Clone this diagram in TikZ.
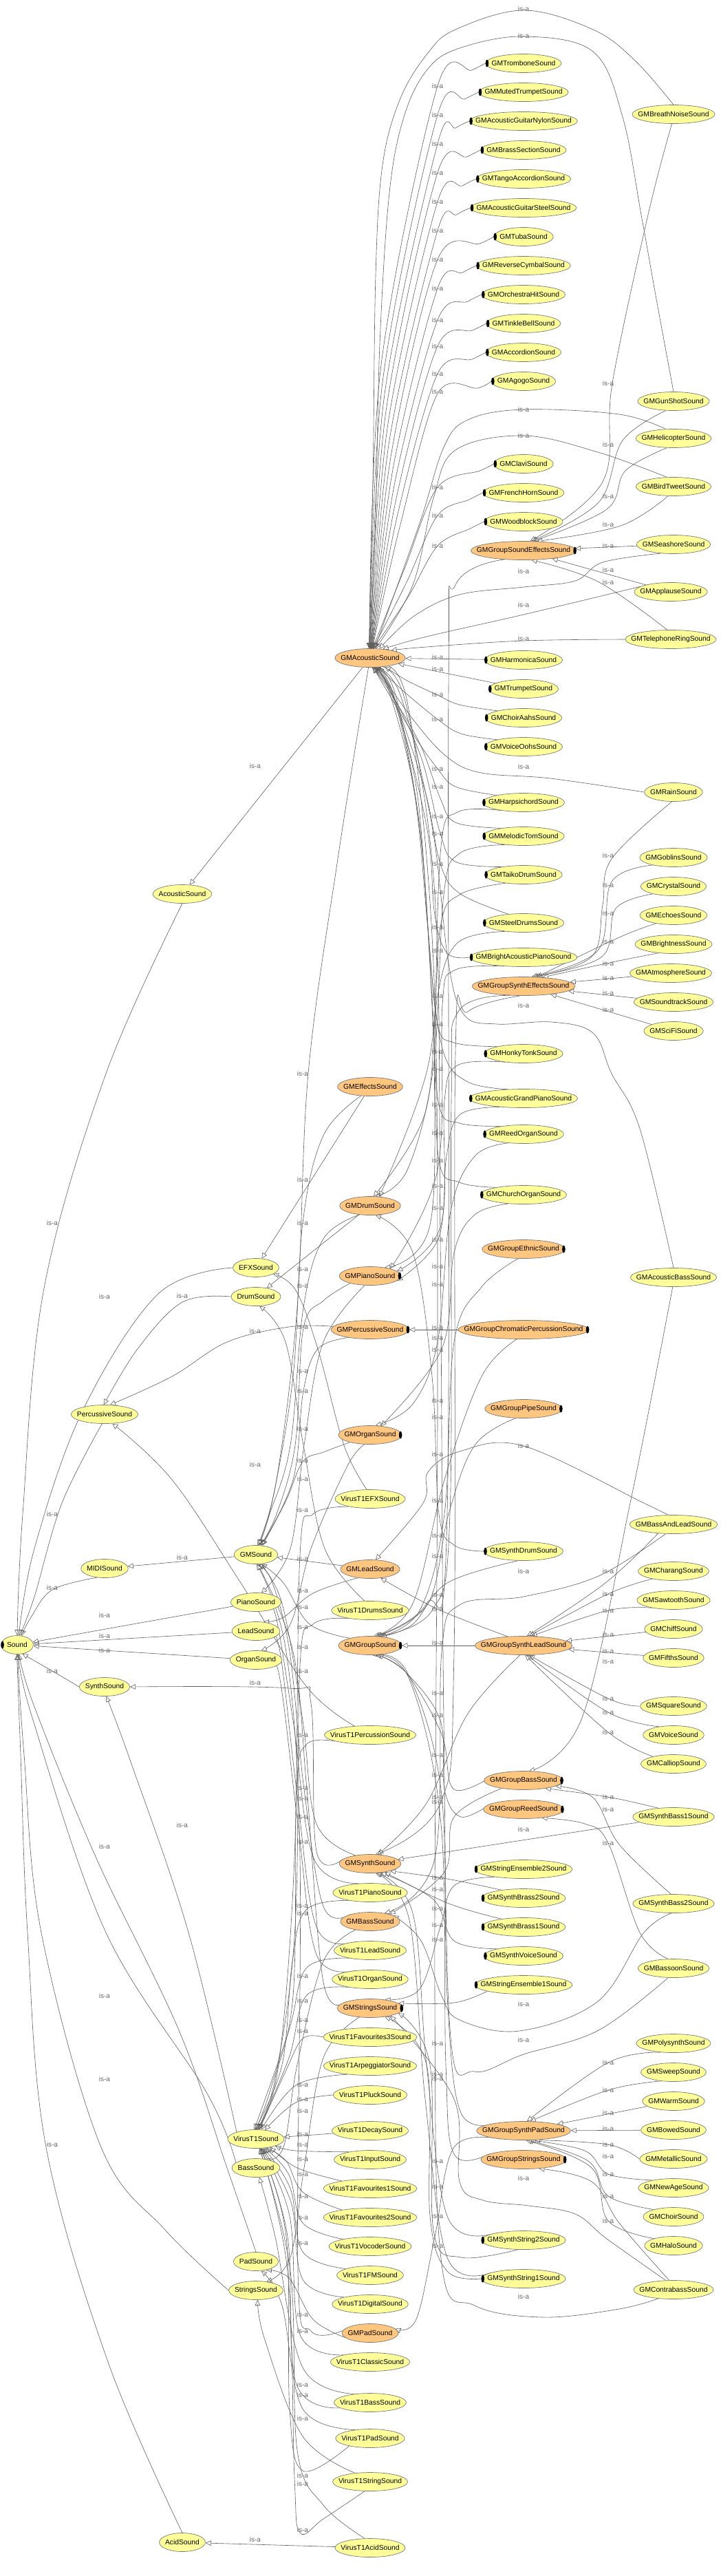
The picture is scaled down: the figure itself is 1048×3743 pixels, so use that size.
\documentclass[tikz,border=0pt]{standalone}
\usepackage{fontspec}
\setmainfont{Liberation Sans}
\usetikzlibrary{arrows.meta,shapes.geometric}
\definecolor{ny}{RGB}{255,255,153}
\definecolor{no}{RGB}{255,198,128}
\definecolor{nb}{RGB}{120,120,120}
\definecolor{ln}{RGB}{95,95,95}
\definecolor{lb}{RGB}{105,105,105}
\pgfdeclarelayer{bg}
\pgfsetlayers{bg,main}
\tikzset{
 yn/.style={ellipse, draw=nb, line width=.7pt, fill=ny, inner xsep=-60pt, inner ysep=-20pt, minimum height=27pt},
 on/.style={yn, fill=no},
 isa/.style={draw=ln, line width=.6pt, -{Triangle[open,length=8pt,width=7.5pt]}},
 lbl/.style={text=lb, inner sep=0pt, font=\fontsize{10}{12}\selectfont}
}
\newcommand\nd[4]{\pgfmathsetmacro\nw{width("#2")+17}\node[#1,minimum width=\nw pt] (#2) at (#3,#4) {#2};}
\newcommand\nY[3]{\nd{yn}{#1}{#2}{#3}}
\newcommand\nO[3]{\nd{on}{#1}{#2}{#3}}
\newcommand\mL[1]{\fill[black] ([xshift=2.3pt]#1.west) ellipse [x radius=2.3pt, y radius=5.5pt];}
\newcommand\mR[1]{\fill[black] ([xshift=-2.3pt]#1.east) ellipse [x radius=2.3pt, y radius=5.5pt];}
\newcommand\E[1]{\draw[isa] plot[smooth,tension=.6] coordinates {#1};}
\newcommand\TR[4]{\draw[isa] plot[smooth,tension=.55] coordinates {(#1.west) ([xshift=-20pt,yshift=-10pt]#1.west) (636,#3) ({548+0.06*#2},{(#2+976)/2}) (GMAcousticSound.#4)};}
\begin{document}
\begin{tikzpicture}[x=1pt,y=-1pt]
\fontsize{10.3}{12}\selectfont
\useasboundingbox (0,0) rectangle (1048,3743);
% ---------- nodes: right column
\nY{GMTromboneSound}{761}{92}\mL{GMTromboneSound}
\nY{GMMutedTrumpetSound}{761}{134}\mL{GMMutedTrumpetSound}
\nY{GMAcousticGuitarNylonSound}{761}{176}\mL{GMAcousticGuitarNylonSound}
\nY{GMBrassSectionSound}{761}{218}\mL{GMBrassSectionSound}
\nY{GMTangoAccordionSound}{761}{260}\mL{GMTangoAccordionSound}
\nY{GMAcousticGuitarSteelSound}{761}{302}\mL{GMAcousticGuitarSteelSound}
\nY{GMTubaSound}{761}{344}\mL{GMTubaSound}
\nY{GMReverseCymbalSound}{761}{386}\mL{GMReverseCymbalSound}
\nY{GMOrchestraHitSound}{761}{428}\mL{GMOrchestraHitSound}
\nY{GMTinkleBellSound}{761}{470}\mL{GMTinkleBellSound}
\nY{GMAccordionSound}{761}{512}\mL{GMAccordionSound}
\nY{GMAgogoSound}{761}{554}\mL{GMAgogoSound}
\nY{GMClaviSound}{761}{674}\mL{GMClaviSound}
\nY{GMFrenchHornSound}{761}{716}\mL{GMFrenchHornSound}
\nY{GMWoodblockSound}{761}{758}\mL{GMWoodblockSound}
\nO{GMGroupSoundEffectsSound}{761}{800}\mR{GMGroupSoundEffectsSound}
\nY{GMHarmonicaSound}{761}{959}\mL{GMHarmonicaSound}
\nY{GMTrumpetSound}{761}{1001}\mL{GMTrumpetSound}
\nY{GMChoirAahsSound}{761}{1043}\mL{GMChoirAahsSound}
\nY{GMVoiceOohsSound}{761}{1085}\mL{GMVoiceOohsSound}
\nY{GMHarpsichordSound}{761}{1166}\mL{GMHarpsichordSound}
\nY{GMMelodicTomSound}{761}{1215}\mL{GMMelodicTomSound}
\nY{GMTaikoDrumSound}{761}{1271}\mL{GMTaikoDrumSound}
\nY{GMSteelDrumsSound}{761}{1341}\mL{GMSteelDrumsSound}
\nY{GMBrightAcousticPianoSound}{761}{1391}\mL{GMBrightAcousticPianoSound}
\nO{GMGroupSynthEffectsSound}{761}{1433}
\nY{GMHonkyTonkSound}{761}{1531}\mL{GMHonkyTonkSound}
\nY{GMAcousticGrandPianoSound}{761}{1596}\mL{GMAcousticGrandPianoSound}
\nY{GMReedOrganSound}{761}{1648}\mL{GMReedOrganSound}
\nY{GMChurchOrganSound}{761}{1736}\mL{GMChurchOrganSound}
\nO{GMGroupEthnicSound}{761}{1815}\mR{GMGroupEthnicSound}
\nO{GMGroupChromaticPercussionSound}{761}{1932}\mR{GMGroupChromaticPercussionSound}
\nO{GMGroupPipeSound}{761}{2047}\mR{GMGroupPipeSound}
\nY{GMSynthDrumSound}{761}{2254}\mL{GMSynthDrumSound}
\nO{GMGroupSynthLeadSound}{761}{2391}
\nO{GMGroupBassSound}{761}{2587}\mR{GMGroupBassSound}
\nO{GMGroupReedSound}{761}{2629}\mR{GMGroupReedSound}
\nY{GMStringEnsemble2Sound}{761}{2716}\mL{GMStringEnsemble2Sound}
\nY{GMSynthBrass2Sound}{761}{2758}\mL{GMSynthBrass2Sound}
\nY{GMSynthBrass1Sound}{761}{2800}\mL{GMSynthBrass1Sound}
\nY{GMSynthVoiceSound}{761}{2842}\mL{GMSynthVoiceSound}
\nY{GMStringEnsemble1Sound}{761}{2884}\mL{GMStringEnsemble1Sound}
\nO{GMGroupSynthPadSound}{761}{3096}
\nO{GMGroupStringsSound}{761}{3138}\mR{GMGroupStringsSound}
\nY{GMSynthString2Sound}{761}{3255}\mL{GMSynthString2Sound}
\nY{GMSynthString1Sound}{761}{3311}\mL{GMSynthString1Sound}
% far right
\nY{GMBreathNoiseSound}{979}{166}
\nY{GMGunShotSound}{979}{583}
\nY{GMHelicopterSound}{979}{637}
\nY{GMBirdTweetSound}{979}{707}
\nY{GMSeashoreSound}{979}{791}
\nY{GMApplauseSound}{975}{860}
\nY{GMTelephoneRingSound}{975}{929}
\nY{GMRainSound}{979}{1151}
\nY{GMGoblinsSound}{979}{1246}
\nY{GMCrystalSound}{979}{1288}
\nY{GMEchoesSound}{979}{1330}
\nY{GMBrightnessSound}{979}{1372}
\nY{GMAtmosphereSound}{975}{1414}
\nY{GMSoundtrackSound}{979}{1456}
\nY{GMSciFiSound}{979}{1498}
\nY{GMAcousticBassSound}{979}{1856}
\nY{GMBassAndLeadSound}{979}{2215}
\nY{GMCharangSound}{979}{2283}
\nY{GMSawtoothSound}{979}{2325}
\nY{GMChiffSound}{979}{2367}
\nY{GMFifthsSound}{979}{2409}
\nY{GMSquareSound}{979}{2479}
\nY{GMVoiceSound}{979}{2521}
\nY{GMCalliopSound}{979}{2563}
\nY{GMSynthBass1Sound}{979}{2640}
\nY{GMSynthBass2Sound}{979}{2766}
\nY{GMBassoonSound}{979}{2860}
\nY{GMPolysynthSound}{979}{2969}
\nY{GMSweepSound}{979}{3011}
\nY{GMWarmSound}{979}{3053}
\nY{GMBowedSound}{979}{3095}
\nY{GMMetallicSound}{979}{3137}
\nY{GMNewAgeSound}{979}{3179}
\nY{GMChoirSound}{979}{3221}
\nY{GMHaloSound}{979}{3263}
\nY{GMContrabassSound}{979}{3327}
% middle column
\nO{GMAcousticSound}{538}{956}
\nO{GMEffectsSound}{538}{1579}
\nO{GMDrumSound}{538}{1752}
\nO{GMPianoSound}{538}{1854}\mR{GMPianoSound}
\nO{GMPercussiveSound}{538}{1932}\mR{GMPercussiveSound}
\nO{GMOrganSound}{538}{2085}\mR{GMOrganSound}
\nY{VirusT1EFXSound}{538}{2178}
\nO{GMLeadSound}{538}{2280}
\nY{VirusT1DrumsSound}{538}{2340}
\nO{GMGroupSound}{538}{2391}\mR{GMGroupSound}
\nY{VirusT1PercussionSound}{538}{2521}
\nO{GMSynthSound}{538}{2708}
\nY{VirusT1PianoSound}{538}{2750}
\nO{GMBassSound}{538}{2792}
\nY{VirusT1LeadSound}{538}{2834}
\nY{VirusT1OrganSound}{538}{2876}
\nO{GMStringsSound}{538}{2918}\mR{GMStringsSound}
\nY{VirusT1Favourites3Sound}{538}{2960}
\nY{VirusT1ArpeggiatorSound}{538}{3002}
\nY{VirusT1PluckSound}{538}{3044}
\nY{VirusT1DecaySound}{538}{3096}
\nY{VirusT1InputSound}{538}{3138}
\nY{VirusT1Favourites1Sound}{538}{3180}
\nY{VirusT1Favourites2Sound}{538}{3222}
\nY{VirusT1VocoderSound}{538}{3264}
\nY{VirusT1FMSound}{538}{3306}
\nY{VirusT1DigitalSound}{538}{3348}
\nO{GMPadSound}{538}{3390}
\nY{VirusT1ClassicSound}{538}{3432}
\nY{VirusT1BassSound}{538}{3491}
\nY{VirusT1PadSound}{538}{3543}
\nY{VirusT1StringSound}{538}{3606}
\nY{VirusT1AcidSound}{538}{3702}
% left columns
\nY{EFXSound}{372}{1842}
\nY{DrumSound}{372}{1884}
\nY{GMSound}{372}{2259}
\nY{PianoSound}{372}{2328}
\nY{LeadSound}{372}{2370}
\nY{OrganSound}{372}{2412}
\nY{VirusT1Sound}{372}{3108}
\nY{BassSound}{372}{3150}
\nY{PadSound}{372}{3286}
\nY{StringsSound}{372}{3328}
\nY{AcousticSound}{265}{1299}
\nY{AcidSound}{265}{3694}
\nY{PercussiveSound}{152}{2055}
\nY{MIDISound}{152}{2279}
\nY{SynthSound}{152}{2451}
\nY{Sound}{25}{2390}\mL{Sound}
% ---------- edges
\begin{pgfonlayer}{bg}
\fill[white] (0,0) rectangle (1048,3743);
\TR{GMTromboneSound}{92}{125}{95}
\TR{GMMutedTrumpetSound}{134}{167}{93}
\TR{GMAcousticGuitarNylonSound}{176}{209}{91}
\TR{GMBrassSectionSound}{218}{251}{89}
\TR{GMTangoAccordionSound}{260}{293}{87}
\TR{GMAcousticGuitarSteelSound}{302}{335}{85}
\TR{GMTubaSound}{344}{377}{84}
\TR{GMReverseCymbalSound}{386}{419}{82}
\TR{GMOrchestraHitSound}{428}{465}{81}
\TR{GMTinkleBellSound}{470}{503}{80}
\TR{GMAccordionSound}{512}{543}{78}
\TR{GMAgogoSound}{554}{572}{77}
\TR{GMClaviSound}{674}{708}{75}
\TR{GMFrenchHornSound}{716}{749}{73}
\TR{GMWoodblockSound}{758}{793}{71}
% arcs and sound effects
\E{(GMBreathNoiseSound.north) (922,87) (862,43) (761,15) (662,43) (622,77) (582,143) (556,240) (546,400) (542,700) (GMAcousticSound.97)}
\E{(GMGunShotSound.north) (955,440) (932,312) (905,170) (862,75) (761,53) (668,70) (622,100) (588,167) (566,280) (552,500) (546,750) (GMAcousticSound.94)}
\E{(GMBreathNoiseSound.-100) (942,312) (890,557) (876,700) (GMGroupSoundEffectsSound.55)}
\E{(GMGunShotSound.230) (905,640) (870,730) (GMGroupSoundEffectsSound.50)}
\E{(GMHelicopterSound.130) (900,602) (761,595) (680,610) (645,650) (610,760) (GMAcousticSound.65)}
\E{(GMHelicopterSound.235) (909,684) (882,740) (GMGroupSoundEffectsSound.45)}
\E{(GMBirdTweetSound.125) (869,657) (761,633) (662,654) (630,724) (600,850) (GMAcousticSound.60)}
\E{(GMBirdTweetSound.240) (902,764) (GMGroupSoundEffectsSound.35)}
\draw[isa] (GMSeashoreSound) -- (GMGroupSoundEffectsSound);
\E{(GMSeashoreSound.215) (876,817) (836,844) (761,853) (668,864) (602,895) (GMAcousticSound.45)}
\draw[isa] (GMApplauseSound) -- (GMGroupSoundEffectsSound);
\E{(GMApplauseSound.170) (761,893) (620,925) (GMAcousticSound.35)}
\E{(GMTelephoneRingSound.110) (869,845) (GMGroupSoundEffectsSound.-50)}
\E{(GMTelephoneRingSound.west) (761,931) (620,940) (GMAcousticSound.20)}
\E{(GMGroupSoundEffectsSound.205) (662,850) (652,1000) (650,2200) (620,2330) (GMGroupSound.60)}
% right of GMAcousticSound
\draw[isa] (GMHarmonicaSound) -- (GMAcousticSound);
\draw[isa] (GMTrumpetSound) -- (GMAcousticSound);
\E{(GMChoirAahsSound.165) (668,1024) (636,1010) (590,988) (GMAcousticSound.-30)}
\E{(GMVoiceOohsSound.165) (670,1066) (636,1045) (585,1003) (GMAcousticSound.-48)}
\E{(GMHarpsichordSound.165) (662,1143) (636,1117) (602,1069) (562,1003) (GMAcousticSound.-72)}
\E{(GMMelodicTomSound.160) (662,1195) (640,1160) (610,1080) (565,1003) (GMAcousticSound.-75)}
\E{(GMTaikoDrumSound.160) (662,1252) (640,1211) (612,1100) (568,1005) (GMAcousticSound.-78)}
\E{(GMSteelDrumsSound.150) (668,1298) (640,1255) (618,1150) (570,1008) (GMAcousticSound.-80)}
\E{(GMBrightAcousticPianoSound.west) (650,1385) (632,1330) (620,1200) (572,1010) (GMAcousticSound.-82)}
\E{(GMHonkyTonkSound.165) (660,1515) (636,1488) (622,1350) (602,1150) (565,1003) (GMAcousticSound.-70)}
\E{(GMAcousticGrandPianoSound.150) (680,1572) (645,1530) (626,1400) (606,1150) (568,1005) (GMAcousticSound.-68)}
\E{(GMReedOrganSound.160) (668,1632) (638,1605) (628,1450) (610,1200) (572,1010) (GMAcousticSound.-66)}
\E{(GMChurchOrganSound.165) (668,1718) (638,1686) (630,1500) (612,1220) (575,1010) (GMAcousticSound.-64)}
\E{(GMRainSound.west) (800,1131) (700,1123) (650,1100) (600,1045) (GMAcousticSound.-55)}
\E{(GMAcousticBassSound.north) (930,1640) (889,1560) (862,1501) (802,1485) (722,1488) (675,1475) (652,1400) (628,1200) (582,1010) (GMAcousticSound.-60)}
\E{(GMBassoonSound.240) (870,2950) (761,2985) (690,3010) (655,2960) (645,2500) (640,1800) (632,1300) (588,1015) (GMAcousticSound.-62)}
\E{(GMContrabassSound.210) (900,3355) (790,3367) (690,3350) (642,3290) (632,2900) (636,2000) (630,1400) (592,1020) (GMAcousticSound.-58)}
% to piano / drum / organ
\E{(GMHarpsichordSound.200) (665,1180) (641,1230) (632,1500) (625,1780) (GMPianoSound.30)}
\E{(GMBrightAcousticPianoSound.205) (660,1410) (643,1460) (636,1700) (GMPianoSound.20)}
\E{(GMHonkyTonkSound.205) (665,1548) (646,1600) (641,1780) (GMPianoSound.10)}
\E{(GMAcousticGrandPianoSound.200) (668,1620) (649,1680) (637,1800) (GMPianoSound.-10)}
\E{(GMMelodicTomSound.205) (668,1240) (645,1300) (630,1550) (592,1700) (GMDrumSound.60)}
\E{(GMTaikoDrumSound.205) (668,1300) (640,1347) (622,1550) (GMDrumSound.45)}
\E{(GMSteelDrumsSound.205) (665,1370) (636,1447) (617,1620) (GMDrumSound.70)}
\E{(GMReedOrganSound.210) (690,1680) (655,1760) (636,1950) (600,2040) (GMOrganSound.60)}
\E{(GMChurchOrganSound.210) (690,1765) (660,1820) (642,1960) (GMOrganSound.40)}
% synth effects
\E{(GMRainSound.-100) (889,1248) (876,1315) (860,1390) (GMGroupSynthEffectsSound.40)}
\E{(GMGoblinsSound.200) (889,1281) (869,1381) (GMGroupSynthEffectsSound.50)}
\E{(GMCrystalSound.200) (895,1320) (875,1390) (GMGroupSynthEffectsSound.45)}
\E{(GMEchoesSound.205) (900,1362) (GMGroupSynthEffectsSound.35)}
\E{(GMBrightnessSound.210) (890,1398) (GMGroupSynthEffectsSound.25)}
\draw[isa] (GMAtmosphereSound) -- (GMGroupSynthEffectsSound);
\draw[isa] (GMSoundtrackSound) -- (GMGroupSynthEffectsSound);
\draw[isa] (GMSciFiSound) -- (GMGroupSynthEffectsSound);
\E{(GMGroupSynthEffectsSound.215) (666,1470) (656,1600) (654,2200) (628,2340) (GMGroupSound.50)}
\E{(GMGroupSynthEffectsSound.250) (680,1470) (662,1530) (660,2400) (640,2620) (GMSynthSound.60)}
% middle column to left
\draw[isa] (GMAcousticSound) -- (AcousticSound);
\E{(GMAcousticSound.-100) (491,1248) (448,1560) (432,1900) (402,2150) (GMSound.80)}
\E{(GMEffectsSound.225) (470,1650) (440,1777) (426,2000) (396,2180) (GMSound.75)}
\draw[isa] (GMEffectsSound) -- (EFXSound);
\E{(GMDrumSound.220) (470,1800) (441,1900) (422,2100) (392,2200) (GMSound.70)}
\draw[isa] (GMDrumSound) -- (DrumSound);
\E{(GMPianoSound.200) (470,1890) (441,1930) (429,2100) (402,2200) (GMSound.65)}
\E{(GMPianoSound.240) (470,1950) (442,2100) (422,2250) (PianoSound.60)}
\E{(GMPercussiveSound.200) (462,1960) (441,2021) (426,2150) (GMSound.60)}
\E{(GMPercussiveSound.175) (420,1928) (330,1950) (250,2000) (PercussiveSound.60)}
\E{(GMOrganSound.200) (470,2110) (440,2124) (416,2180) (GMSound.55)}
\E{(GMOrganSound.240) (505,2130) (452,2250) (422,2360) (OrganSound.60)}
\draw[isa] (GMLeadSound) -- (GMSound);
\E{(GMLeadSound.215) (455,2315) (412,2350) (LeadSound.50)}
\E{(GMGroupSound.160) (450,2360) (412,2300) (GMSound.-60)}
\E{(GMSynthSound.150) (460,2650) (440,2500) (410,2330) (GMSound.-70)}
\E{(GMSynthSound.170) (460,2690) (452,2475) (420,2453) (SynthSound.east)}
\E{(GMBassSound.160) (470,2770) (442,2600) (421,2400) (396,2300) (GMSound.-75)}
\E{(GMBassSound.210) (470,2850) (432,3000) (412,3120) (BassSound.45)}
\E{(GMStringsSound.165) (470,2880) (446,2600) (426,2400) (GMSound.-80)}
\E{(GMStringsSound.220) (470,2990) (442,3150) (422,3280) (StringsSound.40)}
\E{(GMPadSound.175) (452,3387) (433,3300) (436,2700) (416,2400) (GMSound.-85)}
\E{(GMPadSound.190) (455,3370) (420,3310) (PadSound.-40)}
% groups
\E{(GMGroupEthnicSound.240) (700,1870) (660,1950) (646,2200) (610,2340) (GMGroupSound.45)}
\draw[isa] (GMGroupChromaticPercussionSound) -- (GMPercussiveSound);
\E{(GMGroupChromaticPercussionSound.235) (700,2000) (646,2150) (600,2330) (GMGroupSound.70)}
\E{(GMGroupPipeSound.230) (690,2100) (652,2200) (622,2330) (GMGroupSound.55)}
\draw[isa] (GMGroupSynthLeadSound) -- (GMGroupSound);
\E{(GMGroupSynthLeadSound.150) (636,2338) (GMLeadSound.-40)}
\E{(GMGroupSynthLeadSound.-110) (680,2490) (620,2620) (GMSynthSound.50)}
\E{(GMBassAndLeadSound.210) (880,2300) (GMGroupSynthLeadSound.70)}
\E{(GMCharangSound.200) (884,2316) (GMGroupSynthLeadSound.60)}
\E{(GMSawtoothSound.200) (884,2340) (GMGroupSynthLeadSound.50)}
\draw[isa] (GMChiffSound) -- (GMGroupSynthLeadSound);
\draw[isa] (GMFifthsSound) -- (GMGroupSynthLeadSound);
\E{(GMSquareSound.west) (884,2468) (GMGroupSynthLeadSound.-60)}
\E{(GMVoiceSound.150) (884,2488) (GMGroupSynthLeadSound.-70)}
\E{(GMCalliopSound.160) (884,2517) (GMGroupSynthLeadSound.-80)}
\E{(GMBassAndLeadSound.120) (936,2184) (761,2101) (668,2109) (622,2139) (615,2184) (GMLeadSound.60)}
\E{(GMBassAndLeadSound.230) (870,2290) (761,2320) (668,2332) (642,2400) (632,2700) (GMBassSound.30)}
\E{(GMSynthDrumSound.west) (660,2245) (638,2200) (628,2000) (600,1820) (GMDrumSound.-60)}
\E{(GMSynthDrumSound.-120) (650,2300) (600,2360) (GMGroupSound.40)}
\E{(GMAcousticBassSound.-95) (916,2184) (846,2496) (GMGroupBassSound.60)}
\E{(GMGroupBassSound.165) (660,2600) (642,2520) (590,2430) (GMGroupSound.-60)}
\E{(GMGroupBassSound.200) (660,2640) (646,2720) (GMBassSound.20)}
\E{(GMSynthBass1Sound.150) (884,2611) (GMGroupBassSound.-20)}
\E{(GMSynthBass2Sound.105) (900,2680) (862,2612) (GMGroupBassSound.-10)}
\draw[isa] (GMSynthBass1Sound) -- (GMSynthSound);
\E{(GMSynthBass2Sound.-100) (936,2808) (869,2908) (755,2951) (668,2935) (642,2900) (612,2820) (GMBassSound.15)}
\E{(GMContrabassSound.115) (900,3230) (860,3170) (GMGroupStringsSound.-30)}
\E{(GMContrabassSound.130) (882,3253) (836,3217) (769,3205) (702,3197) (668,3170) (660,3050) (GMStringsSound.-20)}
\E{(GMGroupReedSound.170) (670,2640) (646,2600) (640,2500) (590,2430) (GMGroupSound.-50)}
\E{(GMBassoonSound.120) (930,2808) (884,2678) (850,2650) (GMGroupReedSound.-25)}
\E{(GMStringEnsemble2Sound.195) (660,2740) (640,2800) (610,2890) (GMStringsSound.30)}
\E{(GMSynthBrass2Sound.160) (650,2730) (GMSynthSound.-20)}
\E{(GMSynthBrass1Sound.160) (650,2765) (GMSynthSound.-30)}
\E{(GMSynthVoiceSound.165) (660,2820) (630,2760) (GMSynthSound.-40)}
\E{(GMStringEnsemble1Sound.190) (660,2910) (GMStringsSound.10)}
\E{(GMSynthString2Sound.-120) (670,3280) (630,3240) (625,3000) (GMStringsSound.-10)}
\E{(GMSynthString1Sound.west) (650,3300) (625,3220) (620,3000) (GMStringsSound.-30)}
\E{(GMSynthString2Sound.170) (650,3220) (620,3000) (600,2780) (GMSynthSound.-55)}
\E{(GMSynthString1Sound.170) (650,3280) (618,3050) (595,2790) (GMSynthSound.-60)}
\E{(GMGroupSynthPadSound.160) (670,3070) (650,2900) (641,2600) (592,2430) (GMGroupSound.-70)}
\E{(GMGroupSynthPadSound.200) (660,3120) (632,3250) (605,3370) (GMPadSound.10)}
\E{(GMPolysynthSound.215) (884,2997) (GMGroupSynthPadSound.70)}
\E{(GMSweepSound.215) (884,3037) (GMGroupSynthPadSound.55)}
\draw[isa] (GMWarmSound) -- (GMGroupSynthPadSound);
\draw[isa] (GMBowedSound) -- (GMGroupSynthPadSound);
\E{(GMMetallicSound.west) (884,3116) (GMGroupSynthPadSound.-40)}
\E{(GMNewAgeSound.160) (884,3159) (850,3125) (GMGroupSynthPadSound.-55)}
\E{(GMChoirSound.160) (884,3191) (855,3140) (GMGroupSynthPadSound.-65)}
\E{(GMHaloSound.160) (884,3227) (860,3150) (GMGroupSynthPadSound.-75)}
\E{(GMGroupStringsSound.170) (660,3130) (648,3000) (641,2650) (595,2440) (GMGroupSound.-80)}
% VirusT1
\E{(VirusT1EFXSound.200) (455,2200) (436,2260) (428,2700) (405,3000) (VirusT1Sound.80)}
\E{(VirusT1DrumsSound.200) (455,2360) (436,2420) (429,2800) (400,3020) (VirusT1Sound.85)}
\E{(VirusT1PercussionSound.190) (445,2535) (431,2600) (426,2900) (395,3030) (VirusT1Sound.90)}
\E{(VirusT1PianoSound.200) (445,2775) (425,2850) (410,3000) (VirusT1Sound.95)}
\E{(VirusT1LeadSound.200) (445,2860) (420,2950) (VirusT1Sound.100)}
\E{(VirusT1OrganSound.200) (445,2900) (420,2990) (VirusT1Sound.75)}
\E{(VirusT1Favourites3Sound.180) (440,2962) (415,3010) (VirusT1Sound.70)}
\E{(VirusT1ArpeggiatorSound.200) (430,3030) (VirusT1Sound.60)}
\E{(VirusT1PluckSound.180) (430,3055) (VirusT1Sound.45)}
\draw[isa] (VirusT1DecaySound) -- (VirusT1Sound);
\E{(VirusT1InputSound.160) (430,3125) (VirusT1Sound.-20)}
\E{(VirusT1Favourites1Sound.165) (432,3150) (VirusT1Sound.-30)}
\E{(VirusT1Favourites2Sound.165) (440,3185) (416,3140) (VirusT1Sound.-40)}
\E{(VirusT1VocoderSound.165) (440,3230) (420,3160) (VirusT1Sound.-45)}
\E{(VirusT1FMSound.165) (440,3272) (422,3180) (VirusT1Sound.-50)}
\E{(VirusT1DigitalSound.165) (440,3312) (423,3200) (VirusT1Sound.-55)}
\E{(VirusT1ClassicSound.165) (436,3392) (421,3220) (VirusT1Sound.-60)}
\E{(VirusT1BassSound.190) (430,3462) (418,3250) (VirusT1Sound.-62)}
\E{(VirusT1PadSound.200) (440,3590) (421,3500) (416,3250) (VirusT1Sound.-65)}
\E{(VirusT1StringSound.240) (470,3660) (436,3680) (428,3600) (418,3300) (VirusT1Sound.-68)}
\E{(VirusT1AcidSound.120) (470,3640) (432,3560) (422,3300) (VirusT1Sound.-70)}
\E{(VirusT1EFXSound.110) (500,2100) (462,1960) (430,1875) (EFXSound.-20)}
\E{(VirusT1DrumsSound.120) (472,2250) (441,2100) (415,1950) (DrumSound.-70)}
\E{(VirusT1PercussionSound.150) (445,2450) (350,2300) (250,2150) (PercussiveSound.-50)}
\E{(VirusT1PianoSound.140) (456,2700) (426,2500) (400,2345) (PianoSound.-50)}
\E{(VirusT1LeadSound.150) (460,2800) (431,2600) (405,2390) (LeadSound.-50)}
\E{(VirusT1OrganSound.150) (460,2840) (433,2650) (405,2430) (OrganSound.-50)}
\E{(VirusT1BassSound.150) (440,3440) (400,3250) (BassSound.-70)}
\E{(VirusT1PadSound.150) (440,3500) (410,3350) (PadSound.-60)}
\E{(VirusT1StringSound.150) (440,3540) (385,3400) (StringsSound.-80)}
\draw[isa] (VirusT1AcidSound) -- (AcidSound);
% left
\E{(VirusT1Sound.160) (274,2808) (190,2560) (SynthSound.-80)}
\E{(AcousticSound.south) (154,1560) (64,1872) (33,2200) (Sound.north)}
\E{(EFXSound.west) (230,1880) (120,2050) (50,2250) (Sound.80)}
\E{(DrumSound.west) (265,1892) (200,1960) (PercussiveSound.95)}
\E{(PercussiveSound.-105) (90,2184) (50,2320) (Sound.75)}
\E{(MIDISound.-130) (76,2310) (45,2350) (Sound.65)}
\draw[isa] (GMSound) -- (MIDISound);
\draw[isa] (PianoSound) -- (Sound);
\draw[isa] (LeadSound) -- (Sound);
\draw[isa] (OrganSound) -- (Sound);
\E{(SynthSound.west) (76,2428) (Sound.-60)}
\E{(BassSound.165) (300,3040) (154,2808) (47,2496) (Sound.-82)}
\E{(PadSound.north) (330,3150) (260,2950) (140,2700) (50,2480) (Sound.-78)}
\E{(StringsSound.west) (240,3240) (147,3120) (60,2808) (35,2550) (Sound.-88)}
\E{(AcidSound.north) (157,3432) (67,3120) (40,2808) (30,2550) (Sound.-92)}
% labels
\foreach \y in {13,52,595,633,830,879,928,1114,1461,2101,2283,2658,2912,2964,3165,3337} \node[lbl] at (761,\y) {is-a};
\foreach \y in {557,646,721,762,793,828,846,1243,1286,1327,1368,1400,1421,1443,1467,2283,2316,2340,2375,2399,2414,2468,2488,2517,2611,2629,2678,2997,3037,3070,3093,3116,3133,3159,3191,3227} \node[lbl] at (884,\y) {is-a};
\foreach \y in {125,167,209,251,293,335,377,419,465,503,543,569,708,749,793,955,972,1009,1045,1117,1143,1186,1211,1255,1296,1347,1381,1447,1488,1528,1553,1605,1646,1686,1723,1755,1801,1840,1866,1929,1944,1961,2035,2059,2113,2180,2231,2261,2317,2338,2387,2460,2492,2550,2579,2611,2618,2728,2745,2773,2797,2818,2969,3014,3020,3140,3177,3220,3263} \node[lbl] at (636,\y) {is-a};
\foreach \y in {1560,1714,1777,1844,1868,1928,1992,2021,2076,2122,2149,2194,2265,2311,2335,2364,2393,2428,2521,2598,2613,2640,2676,2769,2780,2871,2907,2935,2951,3029,3050,3067,3101,3116,3137,3159,3191,3222,3259,3363,3387,3465,3480,3514,3597,3609,3676} \node[lbl] at (440,\y) {is-a};
\foreach \y in {1113,1934,2128,2445,3690} \node[lbl] at (371,\y) {is-a};
\foreach \y in {1883,2263,2652} \node[lbl] at (265,\y) {is-a};
\foreach \y in {1884,2347,2377,2398,2683,2900,3021} \node[lbl] at (152,\y) {is-a};
\foreach \y in {1777,2200,2307,2428,3116} \node[lbl] at (76,\y) {is-a};
\end{pgfonlayer}
\end{tikzpicture}
\end{document}
